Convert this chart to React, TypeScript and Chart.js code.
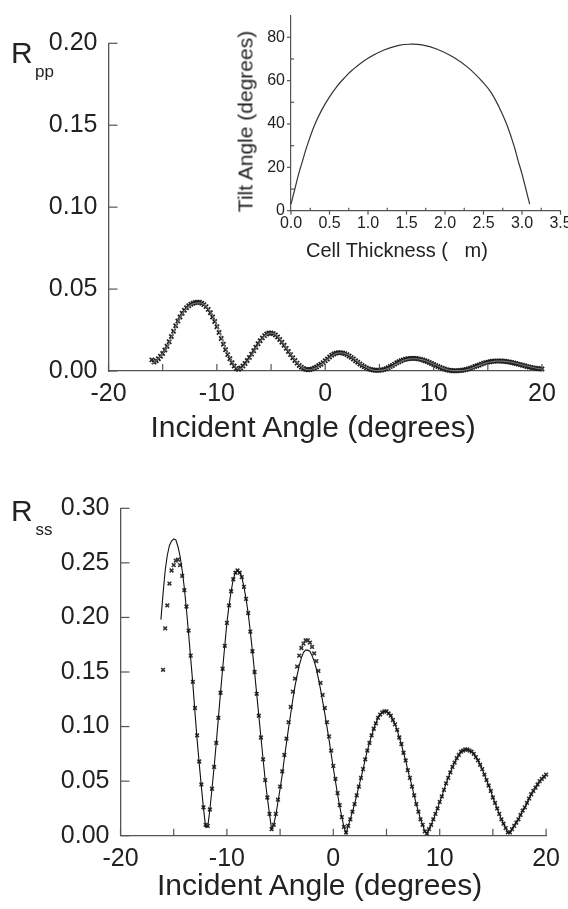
import React, { useEffect, useRef } from 'react';
import { Chart, registerables } from 'chart.js';

Chart.register(...registerables);

const FONT = '"Liberation Sans", Arial, Helvetica, sans-serif';

// Incident angle sampling grid (degrees)
const angleGrid = [
  -16.2,
  -16, -15.8, -15.6, -15.4, -15.2,
  -15, -14.8, -14.6, -14.4, -14.2,
  -14, -13.8, -13.6, -13.4, -13.2,
  -13, -12.8, -12.6, -12.4, -12.2,
  -12, -11.8, -11.6, -11.4, -11.2,
  -11, -10.8, -10.6, -10.4, -10.2,
  -10, -9.8, -9.6, -9.4, -9.2,
  -9, -8.8, -8.6, -8.4, -8.2,
  -8, -7.8, -7.6, -7.4, -7.2,
  -7, -6.8, -6.6, -6.4, -6.2,
  -6, -5.8, -5.6, -5.4, -5.2,
  -5, -4.8, -4.6, -4.4, -4.2,
  -4, -3.8, -3.6, -3.4, -3.2,
  -3, -2.8, -2.6, -2.4, -2.2,
  -2, -1.8, -1.6, -1.4, -1.2,
  -1, -0.8, -0.6, -0.4, -0.2,
  0, 0.2, 0.4, 0.6, 0.8,
  1, 1.2, 1.4, 1.6, 1.8,
  2, 2.2, 2.4, 2.6, 2.8,
  3, 3.2, 3.4, 3.6, 3.8,
  4, 4.2, 4.4, 4.6, 4.8,
  5, 5.2, 5.4, 5.6, 5.8,
  6, 6.2, 6.4, 6.6, 6.8,
  7, 7.2, 7.4, 7.6, 7.8,
  8, 8.2, 8.4, 8.6, 8.8,
  9, 9.2, 9.4, 9.6, 9.8,
  10, 10.2, 10.4, 10.6, 10.8,
  11, 11.2, 11.4, 11.6, 11.8,
  12, 12.2, 12.4, 12.6, 12.8,
  13, 13.2, 13.4, 13.6, 13.8,
  14, 14.2, 14.4, 14.6, 14.8,
  15, 15.2, 15.4, 15.6, 15.8,
  16, 16.2, 16.4, 16.6, 16.8,
  17, 17.2, 17.4, 17.6, 17.8,
  18, 18.2, 18.4, 18.6, 18.8,
  19, 19.2, 19.4, 19.6, 19.8,
  20,
];

// Rpp measured (crosses)
const rppMeasured = [
  null,
  0.0068, 0.0054, 0.0063, 0.0075, 0.0090,
  0.0107, 0.0128, 0.0151, 0.0178, 0.0210,
  0.0243, 0.0276, 0.0305, 0.0330, 0.0352,
  0.0371, 0.0386, 0.0398, 0.0407, 0.0414,
  0.0418, 0.0420, 0.0419, 0.0414, 0.0405,
  0.0393, 0.0376, 0.0355, 0.0330, 0.0302,
  0.0270, 0.0235, 0.0198, 0.0163, 0.0130,
  0.0100, 0.0075, 0.0050, 0.0030, 0.0015,
  0.0010, 0.0018, 0.0030, 0.0046, 0.0064,
  0.0083, 0.0103, 0.0124, 0.0145, 0.0166,
  0.0185, 0.0202, 0.0216, 0.0226, 0.0232,
  0.0232, 0.0228, 0.0220, 0.0208, 0.0192,
  0.0175, 0.0157, 0.0138, 0.0119, 0.0100,
  0.0081, 0.0064, 0.0048, 0.0034, 0.0023,
  0.0015, 0.0010, 0.0008, 0.0009, 0.0013,
  0.0018, 0.0025, 0.0033, 0.0041, 0.0051,
  0.0062, 0.0073, 0.0085, 0.0096, 0.0104,
  0.0109, 0.0112, 0.0112, 0.0110, 0.0106,
  0.0100, 0.0092, 0.0083, 0.0073, 0.0063,
  0.0053, 0.0043, 0.0034, 0.0026, 0.0019,
  0.0013, 0.0009, 0.0006, 0.0005, 0.0004,
  0.0004, 0.0006, 0.0009, 0.0014, 0.0020,
  0.0027, 0.0034, 0.0042, 0.0050, 0.0057,
  0.0063, 0.0068, 0.0072, 0.0075, 0.0076,
  0.0077, 0.0077, 0.0076, 0.0074, 0.0071,
  0.0067, 0.0063, 0.0058, 0.0052, 0.0046,
  0.0040, 0.0034, 0.0028, 0.0022, 0.0017,
  0.0012, 0.0008, 0.0005, 0.0003, 0.0002,
  0.0002, 0.0002, 0.0003, 0.0004, 0.0006,
  0.0009, 0.0013, 0.0017, 0.0022, 0.0027,
  0.0032, 0.0037, 0.0042, 0.0047, 0.0051,
  0.0054, 0.0057, 0.0059, 0.0060, 0.0061,
  0.0061, 0.0061, 0.0060, 0.0059, 0.0057,
  0.0055, 0.0052, 0.0049, 0.0046, 0.0042,
  0.0039, 0.0035, 0.0032, 0.0028, 0.0025,
  0.0022, 0.0019, 0.0017, 0.0015, 0.0013,
  0.0012,
];

// Rpp fitted (solid line)
const rppFit = [
  null,
  0.0045, 0.0053, 0.0063, 0.0075, 0.0089,
  0.0105, 0.0125, 0.0147, 0.0173, 0.0204,
  0.0237, 0.0270, 0.0300, 0.0326, 0.0348,
  0.0367, 0.0382, 0.0394, 0.0403, 0.0410,
  0.0414, 0.0416, 0.0416, 0.0413, 0.0406,
  0.0396, 0.0381, 0.0362, 0.0339, 0.0312,
  0.0281, 0.0247, 0.0210, 0.0174, 0.0140,
  0.0109, 0.0082, 0.0057, 0.0036, 0.0020,
  0.0011, 0.0013, 0.0023, 0.0038, 0.0056,
  0.0075, 0.0095, 0.0116, 0.0138, 0.0159,
  0.0179, 0.0197, 0.0212, 0.0223, 0.0230,
  0.0232, 0.0230, 0.0223, 0.0212, 0.0197,
  0.0180, 0.0162, 0.0143, 0.0124, 0.0105,
  0.0086, 0.0068, 0.0052, 0.0038, 0.0026,
  0.0017, 0.0011, 0.0008, 0.0008, 0.0011,
  0.0016, 0.0022, 0.0030, 0.0038, 0.0047,
  0.0058, 0.0069, 0.0080, 0.0091, 0.0100,
  0.0106, 0.0110, 0.0111, 0.0110, 0.0107,
  0.0102, 0.0095, 0.0086, 0.0077, 0.0067,
  0.0057, 0.0047, 0.0037, 0.0029, 0.0021,
  0.0015, 0.0010, 0.0006, 0.0004, 0.0003,
  0.0003, 0.0004, 0.0007, 0.0011, 0.0016,
  0.0022, 0.0029, 0.0037, 0.0045, 0.0052,
  0.0059, 0.0065, 0.0069, 0.0072, 0.0074,
  0.0075, 0.0075, 0.0075, 0.0073, 0.0071,
  0.0068, 0.0064, 0.0059, 0.0054, 0.0048,
  0.0042, 0.0036, 0.0030, 0.0024, 0.0019,
  0.0014, 0.0010, 0.0006, 0.0004, 0.0002,
  0.0002, 0.0002, 0.0002, 0.0003, 0.0005,
  0.0007, 0.0010, 0.0014, 0.0019, 0.0024,
  0.0029, 0.0034, 0.0039, 0.0044, 0.0048,
  0.0052, 0.0055, 0.0057, 0.0059, 0.0060,
  0.0060, 0.0060, 0.0060, 0.0059, 0.0057,
  0.0055, 0.0053, 0.0050, 0.0047, 0.0044,
  0.0040, 0.0037, 0.0033, 0.0030, 0.0027,
  0.0024, 0.0021, 0.0018, 0.0016, 0.0014,
  0.0012,
];

// Rss measured (crosses)
const rssMeasured = [
  null,
  0.152, 0.190, 0.211, 0.231, 0.243,
  0.248, 0.252, 0.253, 0.248, 0.238,
  0.225, 0.210, 0.188, 0.165, 0.141,
  0.117, 0.092, 0.068, 0.047, 0.026,
  0.010, 0.009, 0.024, 0.043, 0.063,
  0.085, 0.108, 0.131, 0.153, 0.174,
  0.195, 0.211, 0.224, 0.235, 0.241,
  0.243, 0.241, 0.237, 0.228, 0.217,
  0.204, 0.187, 0.169, 0.150, 0.130,
  0.110, 0.090, 0.070, 0.051, 0.035,
  0.020, 0.006, 0.010, 0.020, 0.033,
  0.045, 0.059, 0.074, 0.089, 0.104,
  0.118, 0.132, 0.144, 0.155, 0.165,
  0.172, 0.176, 0.179, 0.179, 0.177,
  0.173, 0.167, 0.160, 0.151, 0.140,
  0.129, 0.117, 0.104, 0.091, 0.078,
  0.064, 0.052, 0.039, 0.028, 0.017,
  0.008, 0.003, 0.009, 0.015, 0.022,
  0.029, 0.037, 0.045, 0.053, 0.061,
  0.070, 0.078, 0.085, 0.092, 0.098,
  0.103, 0.108, 0.111, 0.113, 0.114,
  0.114, 0.112, 0.110, 0.106, 0.102,
  0.097, 0.090, 0.084, 0.076, 0.069,
  0.060, 0.053, 0.045, 0.037, 0.029,
  0.022, 0.015, 0.010, 0.004, 0.002,
  0.006, 0.010, 0.015, 0.020, 0.025,
  0.031, 0.036, 0.042, 0.048, 0.053,
  0.058, 0.063, 0.067, 0.071, 0.074,
  0.077, 0.078, 0.079, 0.079, 0.078,
  0.077, 0.075, 0.072, 0.069, 0.065,
  0.061, 0.056, 0.051, 0.046, 0.041,
  0.035, 0.030, 0.025, 0.020, 0.015,
  0.011, 0.007, 0.003, 0.003, 0.006,
  0.009, 0.012, 0.015, 0.019, 0.023,
  0.026, 0.030, 0.034, 0.038, 0.041,
  0.044, 0.047, 0.050, 0.052, 0.054,
  0.056,
];

// Rss fitted (solid line)
const rssFit = [
  0.198,
  0.222, 0.243, 0.257, 0.266, 0.270,
  0.272, 0.271, 0.265, 0.256, 0.243,
  0.227, 0.207, 0.185, 0.162, 0.139,
  0.113, 0.088, 0.066, 0.045, 0.025,
  0.008, 0.008, 0.024, 0.043, 0.063,
  0.085, 0.108, 0.131, 0.153, 0.174,
  0.195, 0.211, 0.224, 0.235, 0.241,
  0.243, 0.241, 0.237, 0.228, 0.217,
  0.204, 0.187, 0.169, 0.150, 0.130,
  0.110, 0.090, 0.070, 0.051, 0.035,
  0.020, 0.006, 0.010, 0.019, 0.031,
  0.043, 0.056, 0.071, 0.085, 0.099,
  0.112, 0.125, 0.137, 0.147, 0.156,
  0.163, 0.168, 0.170, 0.170, 0.169,
  0.165, 0.160, 0.153, 0.144, 0.134,
  0.123, 0.112, 0.100, 0.088, 0.075,
  0.062, 0.050, 0.038, 0.027, 0.017,
  0.008, 0.002, 0.009, 0.015, 0.022,
  0.029, 0.037, 0.045, 0.053, 0.061,
  0.070, 0.078, 0.085, 0.092, 0.098,
  0.103, 0.108, 0.111, 0.113, 0.114,
  0.114, 0.112, 0.110, 0.106, 0.102,
  0.097, 0.090, 0.084, 0.076, 0.069,
  0.060, 0.053, 0.045, 0.037, 0.029,
  0.022, 0.015, 0.010, 0.004, 0.002,
  0.006, 0.010, 0.015, 0.020, 0.025,
  0.031, 0.036, 0.042, 0.048, 0.053,
  0.058, 0.063, 0.067, 0.071, 0.074,
  0.077, 0.078, 0.079, 0.079, 0.078,
  0.077, 0.075, 0.072, 0.069, 0.065,
  0.061, 0.056, 0.051, 0.046, 0.041,
  0.035, 0.030, 0.025, 0.020, 0.015,
  0.011, 0.007, 0.003, 0.003, 0.006,
  0.009, 0.012, 0.015, 0.019, 0.023,
  0.026, 0.030, 0.034, 0.038, 0.041,
  0.044, 0.047, 0.050, 0.052, 0.054,
  0.056,
];

// Inset: tilt angle vs cell thickness
const cellThickness = [0, 0.05, 0.1, 0.15, 0.2, 0.3, 0.4, 0.5, 0.6, 0.7, 0.8, 1.0, 1.2, 1.4, 1.55, 1.7, 1.9, 2.1, 2.3, 2.5, 2.6, 2.7, 2.8, 2.9, 2.95, 3.0, 3.05, 3.1];
const tiltAngle = [3, 10, 17, 23, 29, 39, 46.5, 52.5, 57.5, 61.5, 65, 70.3, 74, 76.3, 76.8, 76.5, 74.5, 71, 66, 59, 54.5, 48, 40, 29.5, 23, 17, 10, 3];

// Tick values
const angleLabelTicks = [-20, -10, 0, 10, 20];
const angleMarkTicks = [-20, -15, -10, -5, 0, 5, 10, 15, 20];
const rppTicks = [0, 0.05, 0.1, 0.15, 0.2];
const rssTicks = [0, 0.05, 0.1, 0.15, 0.2, 0.25, 0.3];
const thicknessTicks = [0, 0.5, 1, 1.5, 2, 2.5, 3, 3.5];
const thicknessMinor = [0.25, 0.75, 1.25, 1.75, 2.25, 2.75, 3.25];
const tiltTicks = [0, 20, 40, 60, 80];
const tiltMinor = [10, 30, 50, 70];

const AXIS_COLOR = '#555';
const TEXT_COLOR = '#222';

const pairs = (xs: number[], ys: (number | null)[]) => xs.map((x, i) => ({ x, y: ys[i] }));

const tickMarks = {
  id: 'tickMarks',
  afterDraw(chart: any, _args: any, opts: any) {
    if (!opts || !opts.defs) return;
    const ctx = chart.ctx;
    const area = chart.chartArea;
    ctx.save();
    ctx.strokeStyle = AXIS_COLOR;
    ctx.lineWidth = 1.2;
    for (const def of opts.defs) {
      const scale = chart.scales[def.axis];
      for (const v of def.values) {
        const p = scale.getPixelForValue(v);
        ctx.beginPath();
        if (def.axis === 'x') {
          ctx.moveTo(p, area.bottom);
          ctx.lineTo(p, area.bottom - def.len);
        } else {
          ctx.moveTo(area.left, p);
          ctx.lineTo(area.left + def.len, p);
        }
        ctx.stroke();
      }
    }
    ctx.restore();
  },
};

function mainConfig(p: {
  w: number; h: number; left: number; right: number; top: number; bottom: number;
  yMax: number; yTicks: number[]; meas: (number | null)[]; fit: (number | null)[]; fitColor: string;
  markRadius: number; markWidth: number; markColor: string;
}) {
  return {
    type: 'line',
    data: {
      datasets: [
        {
          label: 'fit',
          data: pairs(angleGrid, p.fit),
          borderColor: p.fitColor,
          borderWidth: 1.1,
          pointRadius: 0,
          tension: 0,
          fill: false,
          clip: false,
          order: 1,
        },
        {
          label: 'measured',
          data: pairs(angleGrid, p.meas),
          showLine: false,
          pointStyle: 'crossRot',
          pointRadius: p.markRadius,
          pointBorderWidth: p.markWidth,
          pointBorderColor: p.markColor,
          borderColor: p.markColor,
          backgroundColor: p.markColor,
          clip: false,
          order: 2,
        },
      ],
    },
    options: {
      responsive: false,
      animation: false,
      events: [],
      layout: { padding: { top: p.top, right: p.w - p.right, left: 0, bottom: 0 } },
      plugins: {
        legend: { display: false },
        tooltip: { enabled: false },
        tickMarks: {
          defs: [
            { axis: 'x', values: angleMarkTicks, len: 7 },
            { axis: 'y', values: p.yTicks, len: 9 },
          ],
        },
      },
      scales: {
        x: {
          type: 'linear',
          min: -20,
          max: 20,
          afterBuildTicks: (s: any) => { s.ticks = angleLabelTicks.map((v) => ({ value: v })); },
          afterFit: (s: any) => { s.height = p.h - p.bottom; },
          grid: { display: false, drawTicks: false },
          border: { display: true, color: AXIS_COLOR, width: 1.3 },
          ticks: {
            font: { family: FONT, size: 25 },
            color: TEXT_COLOR,
            padding: 8,
            maxRotation: 0,
            autoSkip: false,
            callback: (v: any) => String(v),
          },
        },
        y: {
          type: 'linear',
          min: 0,
          max: p.yMax,
          afterBuildTicks: (s: any) => { s.ticks = p.yTicks.map((v) => ({ value: v })); },
          afterFit: (s: any) => { s.width = p.left; },
          grid: { display: false, drawTicks: false },
          border: { display: true, color: AXIS_COLOR, width: 1.3 },
          ticks: {
            font: { family: FONT, size: 25 },
            color: TEXT_COLOR,
            padding: 11,
            autoSkip: false,
            callback: (v: any) => Number(v).toFixed(2),
          },
        },
      },
    },
    plugins: [tickMarks],
  };
}

function insetConfig(p: { w: number; h: number; left: number; right: number; top: number; bottom: number }) {
  return {
    type: 'line',
    data: {
      datasets: [
        {
          label: 'tilt',
          data: pairs(cellThickness, tiltAngle),
          borderColor: '#333',
          borderWidth: 1.2,
          pointRadius: 0,
          tension: 0.4,
          fill: false,
          clip: false,
        },
      ],
    },
    options: {
      responsive: false,
      animation: false,
      events: [],
      layout: { padding: { top: p.top, right: p.w - p.right, left: 0, bottom: 0 } },
      plugins: {
        legend: { display: false },
        tooltip: { enabled: false },
        tickMarks: {
          defs: [
            { axis: 'x', values: thicknessTicks, len: -4 },
            { axis: 'x', values: thicknessMinor, len: 3 },
            { axis: 'y', values: tiltTicks, len: -4 },
            { axis: 'y', values: tiltMinor, len: 3 },
          ],
        },
      },
      scales: {
        x: {
          type: 'linear',
          min: 0,
          max: 3.5,
          afterBuildTicks: (s: any) => { s.ticks = thicknessTicks.map((v) => ({ value: v })); },
          afterFit: (s: any) => { s.height = p.h - p.bottom; },
          grid: { display: false, drawTicks: false },
          border: { display: true, color: AXIS_COLOR, width: 1.2 },
          ticks: {
            font: { family: FONT, size: 16 },
            color: TEXT_COLOR,
            padding: 3,
            maxRotation: 0,
            autoSkip: false,
            callback: (v: any) => Number(v).toFixed(1),
          },
        },
        y: {
          type: 'linear',
          min: 0,
          max: 90,
          afterBuildTicks: (s: any) => { s.ticks = tiltTicks.map((v) => ({ value: v })); },
          afterFit: (s: any) => { s.width = p.left; },
          grid: { display: false, drawTicks: false },
          border: { display: true, color: AXIS_COLOR, width: 1.2 },
          ticks: {
            font: { family: FONT, size: 16 },
            color: TEXT_COLOR,
            padding: 6,
            autoSkip: false,
            callback: (v: any) => String(v),
          },
        },
      },
    },
    plugins: [tickMarks],
  };
}

const textBase: React.CSSProperties = {
  position: 'absolute',
  fontFamily: FONT,
  color: TEXT_COLOR,
  whiteSpace: 'pre',
  margin: 0,
  padding: 0,
};

// place text so that its alphabetic baseline sits at `baseline`
const at = (left: number, baseline: number, size: number): React.CSSProperties => ({
  ...textBase,
  left,
  top: baseline - 0.8465 * size,
  fontSize: size,
  lineHeight: `${size}px`,
});

export default function App() {
  const topRef = useRef<HTMLCanvasElement>(null);
  const insetRef = useRef<HTMLCanvasElement>(null);
  const bottomRef = useRef<HTMLCanvasElement>(null);

  useEffect(() => {
    const charts: Chart[] = [];
    if (topRef.current) {
      charts.push(new Chart(topRef.current, mainConfig({
        w: 568, h: 460, left: 108.5, right: 542, top: 43.3, bottom: 371,
        yMax: 0.2, yTicks: rppTicks, meas: rppMeasured, fit: rppFit, fitColor: '#777',
        markRadius: 3, markWidth: 1.7, markColor: '#1e1e1e',
      }) as any));
    }
    if (bottomRef.current) {
      charts.push(new Chart(bottomRef.current, mainConfig({
        w: 568, h: 449, left: 120.5, right: 553, top: 48.3, bottom: 375.7,
        yMax: 0.3, yTicks: rssTicks, meas: rssMeasured, fit: rssFit, fitColor: '#111',
        markRadius: 2.6, markWidth: 1.6, markColor: '#333',
      }) as any));
    }
    if (insetRef.current) {
      charts.push(new Chart(insetRef.current, insetConfig({
        w: 380, h: 270, left: 91, right: 360.5, top: 9.3, bottom: 210.7,
      }) as any));
    }
    return () => { charts.forEach((c) => c.destroy()); };
  }, []);

  return (
    <div style={{ position: 'fixed', left: 0, top: 0, width: 568, height: 909, overflow: 'hidden', background: '#fff' }}>
      <canvas ref={topRef} width={568} height={460} style={{ position: 'absolute', left: 0, top: 0, width: 568, height: 460 }} />
      <canvas ref={bottomRef} width={568} height={449} style={{ position: 'absolute', left: 0, top: 460, width: 568, height: 449 }} />
      <canvas ref={insetRef} width={380} height={270} style={{ position: 'absolute', left: 200, top: 0, width: 380, height: 270 }} />

      <span style={at(11, 63.3, 30)}>R</span>
      <span style={at(35, 77.1, 17)}>pp</span>
      <span style={at(150.5, 437, 30)}>Incident Angle (degrees)</span>

      <span style={at(11, 521.7, 30)}>R</span>
      <span style={at(35.5, 535, 17)}>ss</span>
      <span style={at(157, 895, 30)}>Incident Angle (degrees)</span>

      <span style={at(306, 256.7, 20)}>Cell Thickness (   m)</span>
      <div
        style={{
          ...textBase,
          left: 245 - 110,
          top: 121.5 - 10.5,
          width: 220,
          height: 21,
          fontSize: 21,
          lineHeight: '21px',
          textAlign: 'center',
          transform: 'rotate(-90deg)',
          transformOrigin: '50% 50%',
        }}
      >
        Tilt Angle (degrees)
      </div>
    </div>
  );
}
